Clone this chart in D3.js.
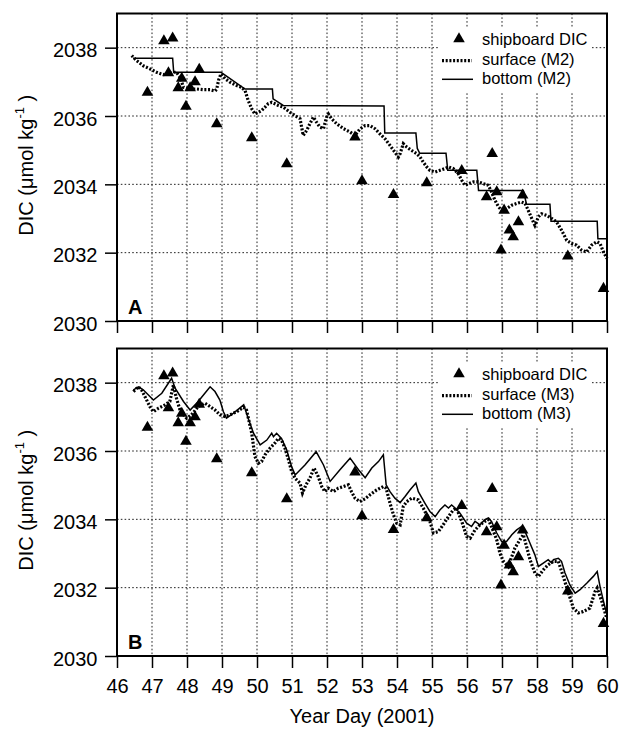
<!DOCTYPE html>
<html>
<head>
<meta charset="utf-8">
<script src="https://cdn.jsdelivr.net/npm/d3@7"></script>
<style>
  body { margin: 0; background: #fff; }
  svg { display: block; font-family: "Liberation Sans", Arial, Helvetica, sans-serif; }
</style>
</head>
<body>
<svg id="chart" width="620" height="729"></svg>
<script>
// year day (2001) and DIC (umol/kg)

const dayTicks = d3.range(46, 61)
const dicTicks = [2030, 2032, 2034, 2036, 2038]

// shipboard samples, same in both panels
const shipDay = [46.87, 47.34, 47.47, 47.59, 47.75, 47.85, 47.97, 48.09, 48.23, 48.35, 48.85, 49.85, 50.85, 52.80, 53.00,
	53.90, 54.85, 55.85, 56.56, 56.72, 56.85, 56.97, 57.06, 57.21, 57.32, 57.47, 57.59, 58.88, 59.90]
const shipDIC = [2036.69, 2038.20, 2037.26, 2038.28, 2036.82, 2037.10, 2036.28, 2036.82, 2037.00, 2037.36, 2035.77, 2035.36, 2034.60, 2035.38, 2034.10,
	2033.70, 2034.04, 2034.40, 2033.63, 2034.90, 2033.78, 2032.07, 2033.24, 2032.66, 2032.46, 2032.90, 2033.68, 2031.90, 2030.95]

// [day, DIC]
const surfaceM2 = [[46.42,2037.77],[46.56,2037.62],[46.75,2037.47],[46.94,2037.38],[47.13,2037.28],[47.32,2037.21],[47.47,2037.23],[47.61,2037.28],
	[47.70,2037.28],[47.80,2037.13],[47.85,2036.99],[47.90,2036.84],[48.09,2036.79],[48.28,2036.79],[48.47,2036.77],[48.66,2036.77],[48.80,2036.73],
	[48.85,2036.79],[48.90,2037.04],[48.97,2037.23],[49.09,2037.09],[49.23,2036.99],[49.42,2036.89],[49.56,2036.84],[49.66,2036.74],[49.75,2036.45],
	[49.85,2036.21],[49.94,2036.06],[50.04,2036.11],[50.13,2036.16],[50.23,2036.26],[50.32,2036.36],[50.42,2036.40],[50.51,2036.36],[50.61,2036.31],
	[50.75,2036.26],[50.94,2036.11],[51.09,2036.01],[51.23,2035.92],[51.32,2035.43],[51.42,2035.58],[51.51,2035.77],[51.61,2035.97],[51.70,2035.82],
	[51.80,2035.67],[51.90,2035.63],[51.99,2035.97],[52.04,2036.06],[52.13,2035.92],[52.28,2035.77],[52.47,2035.63],[52.66,2035.53],[52.80,2035.43],
	[52.94,2035.62],[53.09,2035.72],[53.23,2035.72],[53.37,2035.63],[53.51,2035.48],[53.66,2035.33],[53.80,2035.14],[53.94,2034.94],[54.04,2034.80],
	[54.09,2034.90],[54.18,2035.19],[54.28,2035.09],[54.42,2034.99],[54.56,2034.90],[54.66,2034.80],[54.75,2034.65],[54.85,2034.51],[54.94,2034.41],
	[55.09,2034.36],[55.23,2034.41],[55.37,2034.46],[55.47,2034.51],[55.61,2034.46],[55.75,2034.31],[55.85,2034.12],[55.94,2033.97],[56.04,2034.02],
	[56.18,2034.07],[56.32,2034.07],[56.47,2034.02],[56.61,2033.97],[56.70,2033.78],[56.80,2033.53],[56.90,2033.34],[56.99,2033.24],[57.13,2033.29],
	[57.28,2033.39],[57.42,2033.44],[57.56,2033.48],[57.66,2033.44],[57.75,2033.24],[57.85,2033.00],[57.94,2032.80],[58.04,2033.05],[58.13,2033.14],
	[58.28,2033.09],[58.42,2033.00],[58.56,2032.90],[58.70,2032.66],[58.85,2032.36],[58.99,2032.27],[59.13,2032.22],[59.28,2032.07],[59.42,2032.02],
	[59.56,2032.22],[59.71,2032.32],[59.80,2032.27],[59.90,2032.02],[60.00,2031.83]]

const bottomM2 = [[46.46,2037.69],[47.59,2037.69],[47.62,2037.28],[48.97,2037.28],[49.66,2036.79],[50.44,2036.79],[50.46,2036.50],[50.75,2036.31],
	[53.63,2036.29],[53.65,2035.50],[54.54,2035.50],[54.58,2035.05],[54.65,2034.91],[55.40,2034.91],[55.45,2034.41],[56.28,2034.41],[56.33,2033.82],
	[57.61,2033.82],[57.70,2033.42],[58.37,2033.42],[58.40,2032.92],[59.72,2032.92],[59.74,2032.41],[60.00,2032.41]]

const surfaceM3 = [[46.47,2037.74],[46.61,2037.88],[46.70,2037.79],[46.80,2037.59],[46.94,2037.30],[47.04,2037.15],[47.18,2037.25],[47.37,2037.35],
	[47.51,2037.45],[47.61,2037.93],[47.70,2037.54],[47.80,2037.20],[47.90,2037.06],[47.99,2036.96],[48.13,2037.06],[48.32,2037.30],[48.51,2037.40],
	[48.66,2037.30],[48.80,2037.20],[48.94,2037.06],[49.09,2037.01],[49.23,2037.06],[49.42,2037.15],[49.62,2037.28],[49.70,2037.20],[49.85,2036.52],
	[49.94,2035.84],[50.04,2035.64],[50.13,2035.69],[50.23,2035.89],[50.37,2036.08],[50.51,2036.23],[50.61,2036.37],[50.70,2036.32],[50.80,2036.08],
	[50.90,2035.74],[50.99,2035.40],[51.09,2035.20],[51.23,2035.06],[51.30,2034.77],[51.40,2035.01],[51.51,2035.20],[51.63,2035.50],[51.75,2035.25],
	[51.85,2034.96],[51.94,2034.81],[52.04,2034.91],[52.18,2034.81],[52.32,2034.91],[52.47,2034.96],[52.61,2035.01],[52.70,2034.81],[52.80,2034.62],
	[52.94,2034.52],[53.09,2034.60],[53.23,2034.72],[53.42,2034.86],[53.61,2034.96],[53.69,2034.91],[53.80,2034.47],[53.90,2034.13],[53.99,2033.89],
	[54.09,2033.84],[54.18,2034.38],[54.28,2034.52],[54.42,2034.62],[54.61,2034.57],[54.75,2034.33],[54.94,2033.94],[55.04,2033.60],[55.18,2033.64],
	[55.32,2033.84],[55.47,2034.08],[55.61,2034.28],[55.70,2034.33],[55.85,2033.94],[55.99,2033.50],[56.09,2033.45],[56.23,2033.69],[56.37,2033.84],
	[56.51,2033.94],[56.61,2033.99],[56.70,2033.79],[56.85,2033.40],[56.94,2033.01],[57.04,2032.77],[57.18,2032.62],[57.28,2032.91],[57.37,2033.16],
	[57.51,2033.40],[57.61,2033.55],[57.70,2033.21],[57.80,2032.82],[57.94,2032.43],[58.04,2032.33],[58.18,2032.52],[58.32,2032.67],[58.47,2032.77],
	[58.61,2032.77],[58.75,2032.33],[58.90,2031.84],[59.04,2031.40],[59.18,2031.26],[59.32,2031.30],[59.51,2031.40],[59.66,2031.89],[59.72,2031.99],
	[59.85,2031.60],[59.99,2031.11]]

const bottomM3 = [[46.47,2037.79],[46.61,2037.88],[46.75,2037.79],[47.04,2037.49],[47.28,2037.69],[47.56,2038.13],[47.66,2037.84],[47.90,2037.45],
	[48.09,2037.20],[48.32,2037.45],[48.51,2037.69],[48.66,2037.88],[48.80,2037.74],[48.94,2037.49],[49.04,2037.15],[49.13,2036.96],[49.32,2037.10],
	[49.62,2037.35],[49.75,2036.95],[49.90,2036.52],[50.09,2036.18],[50.28,2036.32],[50.42,2036.52],[50.47,2036.42],[50.56,2036.52],[50.70,2036.37],
	[50.85,2036.03],[50.99,2035.54],[51.09,2035.30],[51.37,2035.59],[51.69,2035.98],[51.90,2035.59],[52.09,2035.11],[52.37,2035.45],[52.66,2035.79],
	[52.90,2035.45],[53.09,2035.22],[53.28,2035.50],[53.47,2035.69],[53.61,2035.89],[53.69,2035.01],[53.80,2034.81],[53.94,2034.62],[54.09,2034.49],
	[54.23,2034.67],[54.37,2034.86],[54.54,2035.06],[54.61,2034.81],[54.80,2034.47],[54.94,2034.23],[55.09,2034.08],[55.23,2034.28],[55.37,2034.42],
	[55.47,2034.33],[55.56,2034.42],[55.66,2034.33],[55.80,2034.18],[55.99,2033.89],[56.13,2033.79],[56.23,2033.94],[56.37,2033.84],[56.51,2033.99],
	[56.61,2034.04],[56.70,2033.94],[56.85,2033.60],[56.99,2033.35],[57.13,2033.35],[57.28,2033.55],[57.42,2033.69],[57.56,2033.79],[57.66,2033.64],
	[57.80,2033.30],[57.94,2032.96],[58.04,2032.62],[58.18,2032.72],[58.32,2032.82],[58.42,2032.72],[58.47,2032.82],[58.61,2032.86],[58.70,2032.77],
	[58.80,2032.43],[58.94,2032.08],[59.09,2031.84],[59.23,2031.94],[59.42,2032.13],[59.61,2032.33],[59.72,2032.47],[59.80,2032.04],[59.90,2031.60],
	[60.00,2031.20]]

const panels = [
	{ label: 'A', top: 13.5, surface: surfaceM2, bottom: bottomM2, names: ['shipboard DIC', 'surface (M2)', 'bottom (M2)'], xLabels: false },
	{ label: 'B', top: 348.5, surface: surfaceM3, bottom: bottomM3, names: ['shipboard DIC', 'surface (M3)', 'bottom (M3)'], xLabels: true },
]

const LEFT = 117
const W = 490
const H = 307.5

const svg = d3.select('#chart')

const x = d3.scaleLinear().domain([46, 60]).range([0, W])
const y = d3.scaleLinear().domain([2030, 2039]).range([H, 0])

const line = d3.line().x(d => x(d[0])).y(d => y(d[1]))
const tri = d3.symbol().type(d3.symbolTriangle).size(58)

function drawPanel(p) {
	const g = svg.append('g').attr('transform', `translate(${LEFT},${p.top})`)

	// dotted grid
	g.append('g')
		.selectAll('line.gx')
		.data(dayTicks.filter(d => d > 46 && d < 60))
		.join('line')
		.attr('x1', d => x(d)).attr('x2', d => x(d))
		.attr('y1', 0).attr('y2', H)
	g.append('g')
		.selectAll('line.gy')
		.data(dicTicks.filter(d => d > 2030))
		.join('line')
		.attr('x1', 0).attr('x2', W)
		.attr('y1', d => y(d)).attr('y2', d => y(d))
	g.selectAll('g line')
		.attr('stroke', '#222')
		.attr('stroke-width', 1)
		.attr('stroke-dasharray', '1.6,2.2')

	// legend background hides grid
	g.append('rect')
		.attr('x', 323).attr('y', 13.5)
		.attr('width', 151).attr('height', 65)
		.attr('fill', '#fff')

	// model lines
	g.append('path').datum(p.bottom)
		.attr('d', line)
		.attr('fill', 'none').attr('stroke', '#000').attr('stroke-width', 1.5)
	g.append('path').datum(p.surface)
		.attr('d', line)
		.attr('fill', 'none').attr('stroke', '#000').attr('stroke-width', 3.2)
		.attr('stroke-dasharray', '2,1.7')

	// shipboard triangles
	g.append('g')
		.selectAll('path')
		.data(shipDay.map((d, i) => [d, shipDIC[i]]))
		.join('path')
		.attr('d', tri)
		.attr('transform', d => `translate(${x(d[0])},${y(d[1])})`)
		.attr('fill', '#000')

	// legend
	const lg = g.append('g').attr('font-size', 16.5)
	lg.append('path').attr('d', tri).attr('transform', 'translate(342,25.5)')
	lg.append('line').attr('x1', 325).attr('x2', 355).attr('y1', 47.2).attr('y2', 47.2)
		.attr('stroke', '#000').attr('stroke-width', 3.2).attr('stroke-dasharray', '2,1.7')
	lg.append('line').attr('x1', 325).attr('x2', 356).attr('y1', 65.8).attr('y2', 65.8)
		.attr('stroke', '#000').attr('stroke-width', 1.5)
	lg.selectAll('text')
		.data(p.names)
		.join('text')
		.attr('x', 365)
		.attr('y', (d, i) => 31.5 + i * 19.5)
		.text(d => d)

	// axes
	const ya = g.append('g')
		.call(d3.axisLeft(y).tickValues(dicTicks).tickSize(12).tickPadding(7.5).tickFormat(d3.format('d')))
	const xa = g.append('g').attr('transform', `translate(0,${H})`)
		.call(d3.axisBottom(x).tickValues(dayTicks).tickSize(12).tickPadding(11)
			.tickFormat(p.xLabels ? d3.format('d') : ''))
	for (const a of [ya, xa]) {
		a.select('.domain').remove()
		a.selectAll('line').attr('stroke-width', 1.5)
		a.selectAll('text').attr('font-size', 20).attr('font-family', null).attr('fill', '#000')
	}
	ya.selectAll('text').attr('dy', '0.45em')

	g.append('rect')
		.attr('width', W).attr('height', H)
		.attr('fill', 'none').attr('stroke', '#000').attr('stroke-width', 2)

	g.append('text')
		.attr('x', 11).attr('y', H - 7.5)
		.attr('font-size', 20).attr('font-weight', 'bold')
		.text(p.label)

	// y title
	const t = svg.append('text')
		.attr('transform', `translate(33,${p.top + H / 2 - 2}) rotate(-90)`)
		.attr('text-anchor', 'middle')
		.attr('font-size', 20)
	t.append('tspan').text('DIC (μmol kg')
	t.append('tspan').attr('font-size', 13).attr('dy', -9).text('-1')
	t.append('tspan').attr('dy', 9).text(' )')
}

panels.forEach(drawPanel)

svg.append('text')
	.attr('x', LEFT + W / 2).attr('y', 723)
	.attr('text-anchor', 'middle')
	.attr('font-size', 20)
	.text('Year Day (2001)')
</script>
</body>
</html>
